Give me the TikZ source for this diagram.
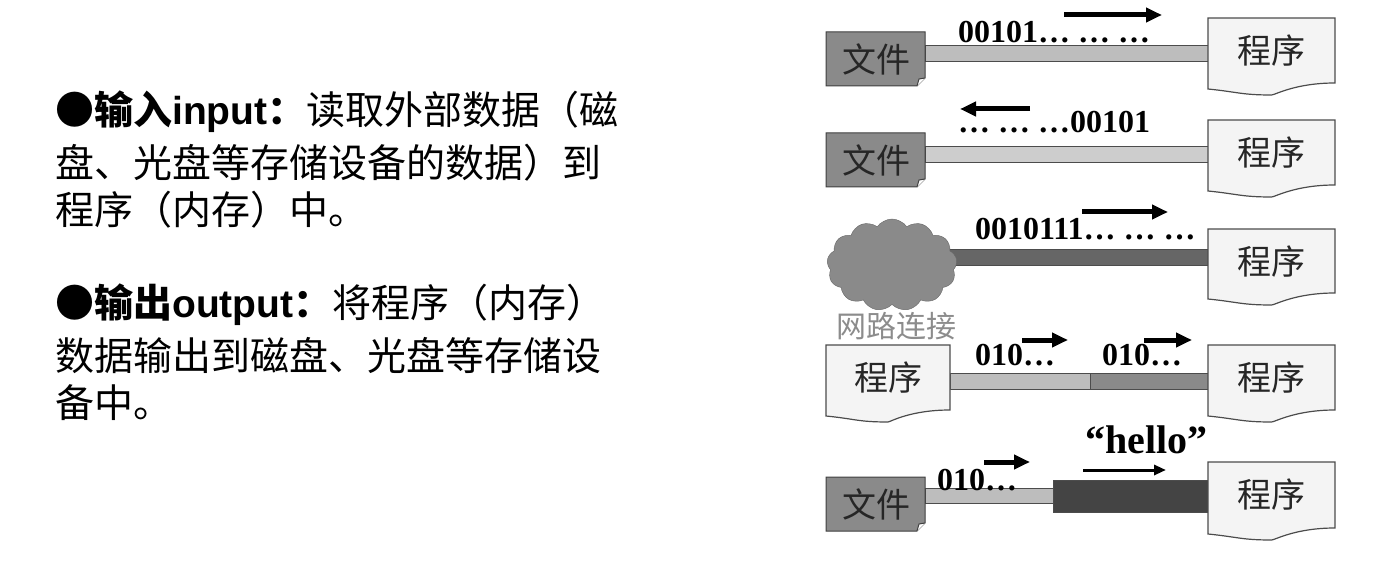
\documentclass[tikz,border=0pt]{standalone}
\usepackage{fontspec}
\setmainfont{Liberation Serif}
\newfontfamily\cjk{Noto Sans CJK SC}
\usetikzlibrary{shapes.symbols,arrows.meta}
\definecolor{gA}{HTML}{8A8A8A}
\definecolor{gB}{HTML}{BDBDBD}
\definecolor{gC}{HTML}{CDCDCD}
\definecolor{gD}{HTML}{666666}
\definecolor{gE}{HTML}{444444}
\definecolor{docf}{HTML}{F4F4F4}
\tikzset{
 lbl/.style={font=\cjk\fontsize{34}{34}\selectfont, text=black!85},
 num/.style={font=\bfseries\fontsize{32}{32}\selectfont, inner sep=0pt},
 txt/.style={font=\cjk\fontsize{39}{39}\selectfont, anchor=west, inner sep=0pt},
 arr/.style={-{Triangle[length=16pt,width=14pt]}, line width=5pt},
 bar/.style={draw=black!70, line width=1pt},
}
\newcommand{\filebox}[3]{% name, x, ytop
 \fill[gA,draw=black!75,line width=1pt] (#2,#3) -- ++(99,0) -- ++(0,46) -- ++(-8,8) -- ++(-91,0) -- cycle;
 \draw[black!75,line width=1pt,fill=white] (#2+99,#3+46) -- ++(-6,1) -- ++(-2,7);
 \node[lbl] (#1) at (#2+50,#3+27) {文件};}
\newcommand{\docbox}[5]{% name, x0, ytop, x1, ybot
 \draw[fill=docf,draw=black!70,line width=1.2pt] (#2,#3) -- (#4,#3) -- (#4,#5-12)
   .. controls (#4-40,#5-12) and (#4-60,#5) .. ({(#2+#4)/2},#5) .. controls ({(#2+#4)/2-30},#5) and (#2+30,#5-3) .. (#2,#5-6) -- cycle;
 \node[lbl] (#1) at ({(#2+#4)/2},#3+33) {程序};}
\begin{document}
\begin{tikzpicture}[x=1pt,y=-1pt]
\useasboundingbox (0,0) rectangle (1385,572);
% left text
\node[txt] (t1) at (55,112) {●\textbf{输入}{\fontspec{Liberation Sans}\bfseries input}\textbf{：}读取外部数据（磁};
\node[txt] (t2) at (55,163) {盘、光盘等存储设备的数据）到};
\node[txt] (t3) at (55,210) {程序（内存）中。};
\node[txt] (t4) at (55,305) {●\textbf{输出}{\fontspec{Liberation Sans}\bfseries output}\textbf{：}将程序（内存）};
\node[txt] (t5) at (55,356) {数据输出到磁盘、光盘等存储设};
\node[txt] (t6) at (55,403) {备中。};
% row 1
\fill[gB,bar] (925,46) rectangle (1210,62);
\filebox{f1}{826}{32}
\docbox{p1}{1208}{18}{1335}{95}
\node[num,anchor=west] (n1) at (958,32) {00101… … …};
\draw[arr] (1064,15) -- (1162,15);
% row 2
\fill[gC,bar] (925,147) rectangle (1210,163);
\filebox{f2}{826}{133}
\docbox{p2}{1208}{120}{1335}{197}
\node[num,anchor=west] (n2) at (958,122) {… … …00101};
\draw[arr] (1030,109) -- (960,109);
% row 3
\fill[gD,bar] (940,250) rectangle (1210,266);
\node[cloud,cloud puffs=13,cloud puff arc=110,aspect=1.3,fill=gA,draw=black!60,minimum width=130pt,minimum height=92pt,inner sep=0pt] (c) at (892,265) {};
\docbox{p3}{1208}{229}{1335}{305}
\node[num,anchor=west] (n3) at (975,229) {0010111… … …};
\draw[arr] (1082,212) -- (1168,212);
\node[font=\cjk\fontsize{30}{30}\selectfont,text=black!45,inner sep=0pt] (net) at (896,326) {网路连接};
% row 4
\fill[gB,bar] (950,373) rectangle (1090,389);
\fill[gA,bar] (1090,373) rectangle (1210,389);
\docbox{p4a}{826}{345}{950}{422}
\docbox{p4b}{1208}{345}{1335}{422}
\node[num,anchor=west] (n4a) at (975,355) {010…};
\node[num,anchor=west] (n4b) at (1102,355) {010…};
\draw[arr] (1022,340) -- (1068,340);
\draw[arr] (1144,340) -- (1192,340);
% row 5
\fill[gB,bar] (925,488) rectangle (1055,503);
\fill[gE,bar] (1053,480) rectangle (1210,512);
\filebox{f5}{826}{477}
\docbox{p5}{1208}{462}{1335}{540}
\node[num,anchor=west] (n5) at (937,480) {010…};
\draw[arr] (984,462) -- (1030,462);
\node[num,anchor=west,font=\bfseries\fontsize{40}{40}\selectfont] (h) at (1085,440) {“hello”};
\draw[-{Triangle[length=12pt,width=10pt]},line width=3pt] (1083,470) -- (1166,470);
\end{tikzpicture}
\end{document}
